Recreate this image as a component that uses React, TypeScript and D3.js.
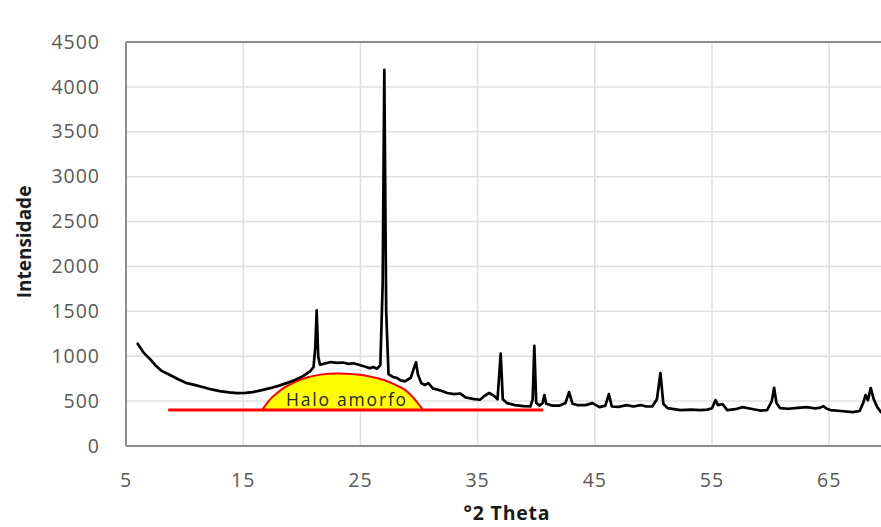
import React from "react";
import * as d3 from "d3";

// X-ray diffractogram (°2θ vs intensity)
const twoTheta = [
  6.0, 6.5, 7.0, 7.5, 8.0, 8.75, 9.5, 10.2, 11.0, 11.6, 12.3, 13.0, 13.8, 14.5, 15.2, 15.8,
  16.5, 17.3, 18.0, 18.7, 19.4, 20.1, 20.7, 21.0, 21.15, 21.27, 21.4, 21.55, 22.0, 22.5, 23.0,
  23.5, 24.0, 24.4, 25.0, 25.5, 25.8, 26.1, 26.4, 26.7, 26.9, 27.04, 27.2, 27.4, 27.8, 28.1,
  28.4, 28.8, 29.3, 29.6, 29.75, 29.9, 30.2, 30.5, 30.8, 31.2, 31.8, 32.4, 33.0, 33.5, 34.0,
  34.6, 35.2, 35.6, 36.0, 36.4, 36.7, 36.97, 37.15, 37.5, 38.2, 38.9, 39.5, 39.7, 39.84, 40.0,
  40.3, 40.55, 40.7, 40.85, 41.4, 42.0, 42.5, 42.8, 43.1, 43.5, 44.2, 44.8, 45.4, 45.9, 46.2,
  46.45, 47.0, 47.7, 48.3, 48.9, 49.4, 49.9, 50.3, 50.6, 50.85, 51.2, 52.3, 53.2, 54.0, 54.6,
  55.0, 55.3, 55.5, 55.9, 56.3, 57.0, 57.6, 58.3, 59.1, 59.7, 60.1, 60.3, 60.5, 60.8, 61.5,
  62.3, 63.1, 63.7, 64.2, 64.5, 64.8, 65.1, 66.0, 67.0, 67.6, 67.9, 68.1, 68.3, 68.55, 68.8,
  69.1, 69.4, 70.0,
];
const intensity = [
  1140, 1040, 975, 900, 840, 790, 740, 700, 675, 655, 630, 612, 598, 590, 592, 600,
  620, 644, 670, 700, 735, 778, 830, 878, 1100, 1510, 1000, 905, 920, 935, 925,
  930, 915, 922, 900, 880, 865, 880, 860, 900, 1800, 4190, 1500, 800, 767, 760,
  733, 720, 760, 880, 933, 800, 700, 680, 700, 640, 620, 590, 578, 585, 540,
  525, 515, 560, 590, 560, 520, 1030, 520, 478, 455, 444, 440, 520, 1115, 480,
  450, 480, 567, 470, 450, 450, 480, 600, 470, 456, 455, 478, 433, 450, 578,
  440, 435, 456, 440, 456, 440, 440, 520, 811, 470, 422, 400, 405, 400, 405,
  420, 511, 456, 467, 400, 410, 433, 415, 395, 400, 500, 648, 480, 422, 415,
  425, 433, 420, 425, 444, 415, 400, 390, 378, 390, 480, 567, 511, 644, 520,
  433, 378, 375,
];

// Amorphous halo outline (dome) and its baseline
const haloX = [16.6, 17.3, 17.85, 18.5, 19.3, 20.5, 21.6, 23.0, 24.5, 25.8, 27.0, 28.0, 28.8, 29.5, 30.0, 30.35];
const haloY = [400, 520, 585, 650, 705, 765, 795, 808, 800, 775, 735, 680, 625, 540, 460, 400];
const baselineX = [8.6, 40.6];
const baselineY = [400, 400];
const haloLabel = "Halo amorfo";

const xTicks = [5, 15, 25, 35, 45, 55, 65, 75];
const xTickLabels = ["5", "15", "25", "35", "45", "55", "65"];
const yTicks = [0, 500, 1000, 1500, 2000, 2500, 3000, 3500, 4000, 4500];
const xTitle = "°2 Theta";
const yTitle = "Intensidade";

const W = 881;
const H = 527;

export default function App() {
  const left = 126;
  const top = 42;
  const bottom = 446;
  const x = d3.scaleLinear().domain([5, 75]).range([left, left + 70 * 11.72]);
  const y = d3.scaleLinear().domain([0, 4500]).range([bottom, top]);

  const pts = twoTheta.map((t, i) => [t, intensity[i]] as [number, number]);
  const line = d3
    .line<[number, number]>()
    .x((d) => x(d[0]))
    .y((d) => y(d[1]));

  const haloPts = haloX.map((t, i) => [t, haloY[i]] as [number, number]);
  const haloLine = d3
    .line<[number, number]>()
    .x((d) => x(d[0]))
    .y((d) => y(d[1]))
    .curve(d3.curveMonotoneX);
  const haloArea = d3
    .area<[number, number]>()
    .x((d) => x(d[0]))
    .y0(y(400))
    .y1((d) => y(d[1]))
    .curve(d3.curveMonotoneX);

  const font = "'Open Sans', 'DejaVu Sans', sans-serif";
  const gridColor = "#e0e0e0";
  const axisColor = "#8c8c8c";

  return (
    <svg
      width={W}
      height={H}
      style={{ position: "absolute", left: 0, top: 0, background: "#fff" }}
      fontFamily={font}
    >
      <defs>
        <clipPath id="plotClip">
          <rect x={left} y={top - 10} width={W - left} height={bottom - top + 10} />
        </clipPath>
      </defs>
      <rect x={0} y={0} width={W} height={H} fill="#fff" />

      {/* horizontal gridlines */}
      {yTicks.slice(1, -1).map((t) => (
        <line key={"gy" + t} x1={left} x2={W} y1={y(t)} y2={y(t)} stroke={gridColor} strokeWidth={1.5} />
      ))}
      {/* vertical gridlines */}
      {xTicks.slice(1).map((t) => (
        <line key={"gx" + t} x1={x(t)} x2={x(t)} y1={top} y2={bottom} stroke={gridColor} strokeWidth={1.5} />
      ))}

      {/* top border (4500 line), axes */}
      <line x1={left} x2={W} y1={y(4500)} y2={y(4500)} stroke={axisColor} strokeWidth={2} />
      <line x1={left} x2={left} y1={top} y2={bottom} stroke={axisColor} strokeWidth={2} />
      <line x1={left} x2={W} y1={bottom} y2={bottom} stroke={axisColor} strokeWidth={2} />

      <g clipPath="url(#plotClip)">
        {/* halo */}
        <path d={haloArea(haloPts) || ""} fill="#ffff00" stroke="none" />
        <path d={haloLine(haloPts) || ""} fill="none" stroke="#ff0000" strokeWidth={2} />
        <line
          x1={x(baselineX[0])}
          x2={x(baselineX[1])}
          y1={y(baselineY[0])}
          y2={y(baselineY[1])}
          stroke="#ff0000"
          strokeWidth={3}
        />
        <text
          x={x(23.85)}
          y={y(400) - 4}
          textAnchor="middle"
          fontSize={17.5}
          letterSpacing={1.8}
          fill="#262626"
        >
          {haloLabel}
        </text>

        {/* diffractogram */}
        <path
          d={line(pts) || ""}
          fill="none"
          stroke="#000"
          strokeWidth={2.7}
          strokeLinejoin="round"
          strokeLinecap="round"
        />
      </g>

      {/* y tick labels */}
      {yTicks.map((t) => (
        <text
          key={"yl" + t}
          x={100}
          y={y(t)}
          dy="0.34em"
          textAnchor="end"
          fontSize={19.5}
          letterSpacing={1}
          fill="#595959"
        >
          {t}
        </text>
      ))}
      {/* x tick labels */}
      {xTickLabels.map((t) => (
        <text
          key={"xl" + t}
          x={x(+t)}
          y={487}
          textAnchor="middle"
          fontSize={19.5}
          letterSpacing={1}
          fill="#595959"
        >
          {t}
        </text>
      ))}

      {/* axis titles */}
      <text x={507} y={520} textAnchor="middle" fontSize={19.5} fontWeight="bold" letterSpacing={0.8} fill="#1a1a1a">
        {xTitle}
      </text>
      <text
        transform={`translate(31, 242) rotate(-90)`}
        textAnchor="middle"
        fontSize={19}
        fontWeight="bold"
        fill="#1a1a1a"
      >
        {yTitle}
      </text>
    </svg>
  );
}
